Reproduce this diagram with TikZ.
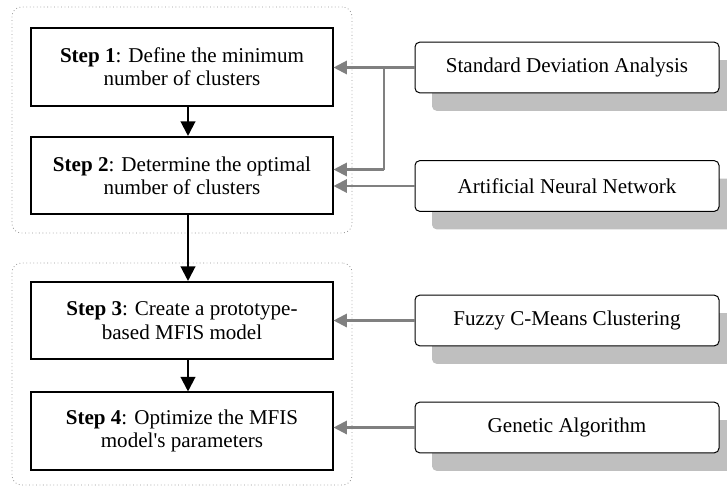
\documentclass[tikz,border=0pt]{standalone}
\usepackage{fontspec}
\setmainfont{Liberation Serif}
\usetikzlibrary{arrows.meta,shadows,fit}
\definecolor{linkgray}{RGB}{128,128,128}
\definecolor{shadowgray}{RGB}{191,191,191}
\definecolor{framegray}{RGB}{150,150,150}
\tikzset{
  stepbox/.style={draw=black, line width=1.3pt, fill=white,
    minimum width=226pt, minimum height=58pt, align=center,
    font=\fontsize{15.8pt}{17.5pt}\selectfont, inner sep=2pt},
  toolbox/.style={draw=black, line width=0.75pt, fill=white, rounded corners=3.5pt,
    minimum width=228pt, minimum height=38pt, align=center,
    font=\fontsize{15.8pt}{17.5pt}\selectfont,
    drop shadow={shadow xshift=12.75pt, shadow yshift=-13.5pt, fill=shadowgray, opacity=1}},
  groupframe/.style={draw=framegray, dotted, line width=0.6pt, rounded corners=7pt, inner sep=0pt},
  flowarrow/.style={draw=black, line width=1.6pt, -{Triangle[length=11pt,width=11pt]}},
  linkarrow/.style={draw=linkgray, line width=1.6pt, -{Triangle[length=10pt,width=10pt]}},
  linkline/.style={draw=linkgray, line width=1.6pt},
}
\begin{document}
\begin{tikzpicture}[x=0.75pt, y=-0.75pt]
  \useasboundingbox (0,0) rectangle (727,486);

  % grouping frames
  \coordinate (g1a) at (12,7);   \coordinate (g1b) at (352,233);
  \coordinate (g2a) at (12,263); \coordinate (g2b) at (352,485);
  \node[groupframe, fit=(g1a)(g1b)] (grp1) {};
  \node[groupframe, fit=(g2a)(g2b)] (grp2) {};

  % procedure steps
  \node[stepbox] (s1) at (182,67)    {\textbf{Step 1}: Define the minimum\\number of clusters};
  \node[stepbox] (s2) at (182,175.5) {\textbf{Step 2}: Determine the optimal\\number of clusters};
  \node[stepbox] (s3) at (182,320.5) {\textbf{Step 3}: Create a prototype-\\based MFIS model};
  \node[stepbox] (s4) at (182,431)   {\textbf{Step 4}: Optimize the MFIS\\model\textquotesingle s parameters};

  % supporting techniques
  \node[toolbox] (sda) at (567,67.5)  {Standard Deviation Analysis};
  \node[toolbox] (ann) at (567,186)   {Artificial Neural Network};
  \node[toolbox] (fcm) at (567,320.5) {Fuzzy C-Means Clustering};
  \node[toolbox] (ga)  at (567,427.5) {Genetic Algorithm};

  % flow between steps
  \draw[flowarrow] ([xshift=4.5pt]s1.south) -- ([xshift=4.5pt]s2.north);
  \draw[flowarrow] ([xshift=4.5pt]s2.south) -- ([xshift=4.5pt]s3.north);
  \draw[flowarrow] ([xshift=4.5pt]s3.south) -- ([xshift=4.5pt]s4.north);

  % technique links
  \coordinate (branch) at (384,67.5);
  \draw[linkarrow] (sda.west) -- (sda.west -| s1.east);
  \draw[linkline] (branch) -- (branch |- 0,169.5);
  \draw[linkarrow] (branch |- 0,169.5) -- (s2.east |- 0,169.5);
  \draw[linkarrow] (ann.west) -- (ann.west -| s2.east);
  \draw[linkarrow] (fcm.west) -- (fcm.west -| s3.east);
  \draw[linkarrow] (ga.west) -- (ga.west -| s4.east);
\end{tikzpicture}
\end{document}
